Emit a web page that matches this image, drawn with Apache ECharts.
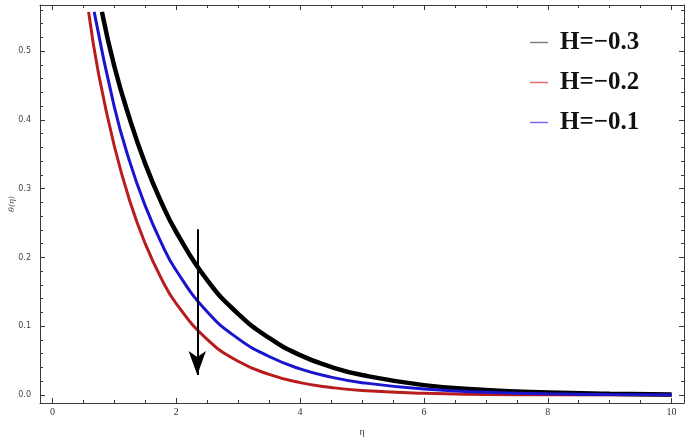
<!DOCTYPE html>
<html>
<head>
<meta charset="utf-8">
<script src="https://cdn.jsdelivr.net/npm/echarts@6/dist/echarts.min.js"></script>
<style>html,body{margin:0;padding:0;background:#fff}#c{width:689px;height:442px}</style>
</head>
<body>
<div id="c"></div>
<script>
// ---- data ----
const seriesNames = ['H=\u22120.3', 'H=\u22120.2', 'H=\u22120.1'];
const etaBlack   = [0.80, 1.0, 1.25, 1.5, 1.75, 2.0, 2.5, 3.0, 3.5, 4.0, 4.5, 5.0, 6.0, 7.0, 8.0, 9.0, 10.0];
const thetaBlack = [0.557, 0.478, 0.401, 0.336, 0.282, 0.237, 0.167, 0.118, 0.083, 0.058, 0.041, 0.029, 0.0144, 0.0072, 0.0036, 0.0018, 0.0009];
const etaRed     = [0.585, 0.75, 1.0, 1.25, 1.5, 1.75, 2.0, 2.5, 3.0, 3.5, 4.0, 4.5, 5.0, 6.0, 7.0, 8.0, 10.0];
const thetaRed   = [0.557, 0.465, 0.362, 0.282, 0.220, 0.171, 0.133, 0.081, 0.049, 0.030, 0.018, 0.011, 0.0066, 0.0024, 0.0009, 0.0003, 0.0];
const etaBlue    = [0.675, 1.0, 1.25, 1.5, 1.75, 2.0, 2.5, 3.0, 3.5, 4.0, 4.5, 5.0, 6.0, 7.0, 8.0, 9.0, 10.0];
const thetaBlue  = [0.557, 0.419, 0.339, 0.275, 0.223, 0.181, 0.121, 0.082, 0.056, 0.038, 0.026, 0.018, 0.0086, 0.0040, 0.0019, 0.0009, 0.0004];
const arrowEta = 2.34;
const arrowTheta = [0.241, 0.029];

const xMajor = [0, 2, 4, 6, 8, 10];
const xMinor = [0.5, 1, 1.5, 2.5, 3, 3.5, 4.5, 5, 5.5, 6.5, 7, 7.5, 8.5, 9, 9.5];
const yMajor = [0, 0.1, 0.2, 0.3, 0.4, 0.5];
const yMinor = [0.02, 0.04, 0.06, 0.08, 0.12, 0.14, 0.16, 0.18, 0.22, 0.24, 0.26, 0.28, 0.32, 0.34, 0.36, 0.38, 0.42, 0.44, 0.46, 0.48, 0.52, 0.54, 0.56];
const xRange = [-0.2, 10.2];
const yRange = [-0.0116, 0.567];

function pairs(xs, ys) { return xs.map((x, i) => [x, ys[i]]); }

const frameColor = '#3a3a3a';
function xAx(pos, ticks, len, showLine, labels) {
  return {
    type: 'value', position: pos, min: xRange[0], max: xRange[1],
    axisLine: { show: showLine, onZero: false, lineStyle: { color: frameColor, width: 1 } },
    axisTick: { show: true, inside: true, length: len, customValues: ticks, lineStyle: { color: frameColor, width: 1 } },
    axisLabel: labels ? { show: true, customValues: xMajor, color: '#333', fontFamily: 'Liberation Serif', fontSize: 10, margin: 4 } : { show: false },
    splitLine: { show: false }
  };
}
function yAx(pos, ticks, len, showLine, labels) {
  return {
    type: 'value', position: pos, min: yRange[0], max: yRange[1],
    axisLine: { show: showLine, onZero: false, lineStyle: { color: frameColor, width: 1 } },
    axisTick: { show: true, inside: true, length: len, customValues: ticks, lineStyle: { color: frameColor, width: 1 } },
    axisLabel: labels ? { show: true, customValues: yMajor, color: '#444', fontFamily: 'DejaVu Sans', fontSize: 8, margin: 9,
      formatter: v => v.toFixed(1) } : { show: false },
    splitLine: { show: false }
  };
}

const xAxes = [
  Object.assign(xAx('bottom', xMajor, 5, true, true), { name: '\u03B7', nameLocation: 'middle', nameGap: 24,
    nameTextStyle: { fontFamily: 'Liberation Serif', fontSize: 10, color: '#333' } }),
  xAx('bottom', xMinor, 3, false, false),
  xAx('top', xMajor, 5, true, false),
  xAx('top', xMinor, 3, false, false)
];
const yAxes = [
  Object.assign(yAx('left', yMajor, 5, true, true), { name: '\u03B8(\u03B7)', nameLocation: 'middle', nameGap: 24, nameRotate: 90,
    nameMoveOverlap: false,
    nameTextStyle: { fontFamily: 'DejaVu Serif', fontStyle: 'italic', fontSize: 8, color: '#444' } }),
  yAx('left', yMinor, 3, false, false),
  yAx('right', yMajor, 5, true, false),
  yAx('right', yMinor, 3, false, false)
];

const chart = echarts.init(document.getElementById('c'), null, { renderer: 'canvas' });
chart.setOption({
  animation: false,
  backgroundColor: '#fff',
  grid: { left: 40, right: 5, top: 5, bottom: 39, containLabel: false, outerBoundsMode: 'none' },
  xAxis: xAxes,
  yAxis: yAxes,
  legend: {
    orient: 'vertical', left: 530, top: 30, padding: 0,
    itemWidth: 18, itemHeight: 1.5, itemGap: 15,
    textStyle: { fontFamily: 'Liberation Serif', fontWeight: 'bold', fontSize: 25, color: '#111', lineHeight: 25, padding: [0, 0, 0, 7] },
    data: [
      { name: seriesNames[0], icon: 'rect', itemStyle: { color: '#808080' } },
      { name: seriesNames[1], icon: 'rect', itemStyle: { color: '#e46c6c' } },
      { name: seriesNames[2], icon: 'rect', itemStyle: { color: '#776cf2' } }
    ]
  },
  series: [
    { name: seriesNames[0], type: 'line', data: pairs(etaBlack, thetaBlack), showSymbol: false, symbol: 'none',
      smooth: true, z: 3, lineStyle: { color: '#000', width: 4.5 }, itemStyle: { color: '#000' } },
    { name: seriesNames[1], type: 'line', data: pairs(etaRed, thetaRed), showSymbol: false, symbol: 'none',
      smooth: true, z: 2, lineStyle: { color: '#b81c1c', width: 3 }, itemStyle: { color: '#b81c1c' } },
    { name: seriesNames[2], type: 'line', data: pairs(etaBlue, thetaBlue), showSymbol: false, symbol: 'none',
      smooth: true, z: 4, lineStyle: { color: '#1a14cc', width: 3 }, itemStyle: { color: '#1a14cc' },
      markLine: {
        silent: true, symbol: ['none', 'arrow'], symbolSize: [13, 24], label: { show: false },
        lineStyle: { color: '#000', width: 2, type: 'solid' },
        data: [[{ coord: [arrowEta, arrowTheta[0]] }, { coord: [arrowEta, arrowTheta[1]] }]]
      } }
  ]
});
</script>
</body>
</html>
